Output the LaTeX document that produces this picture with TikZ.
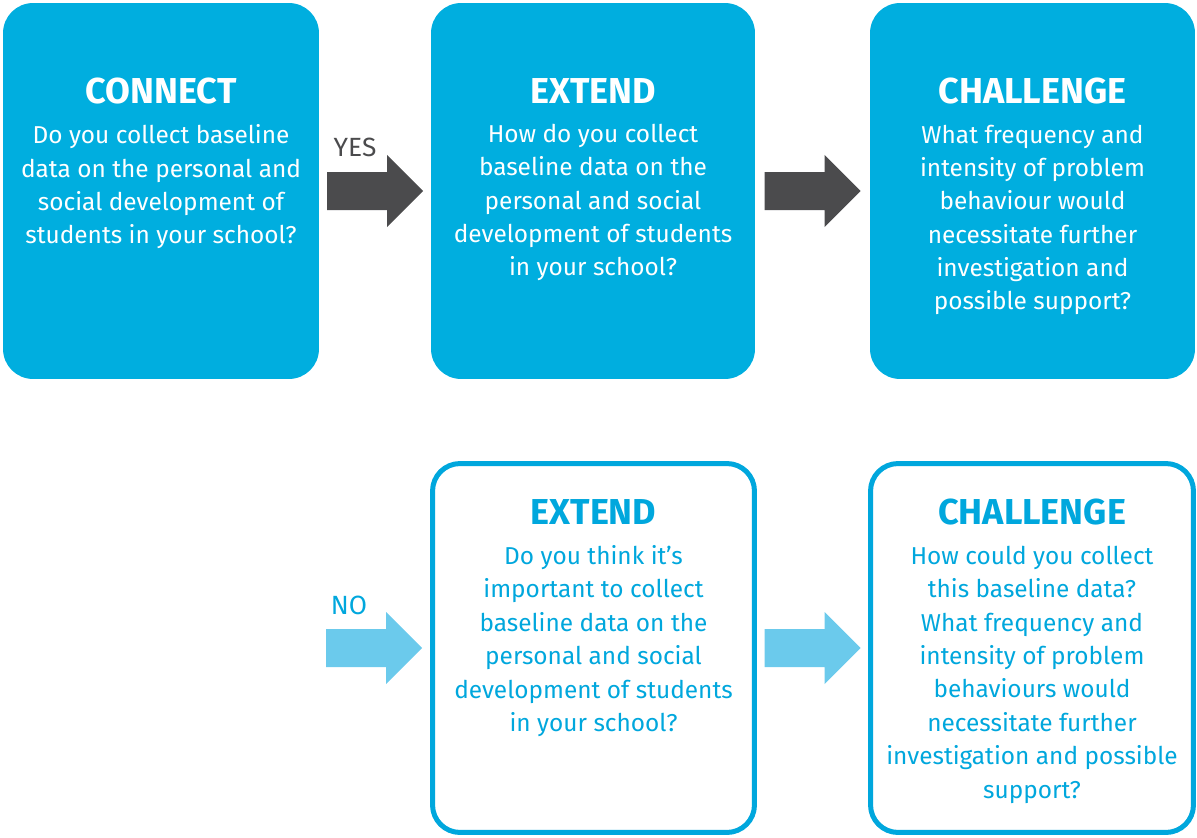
\documentclass[tikz,border=0pt]{standalone}
\usepackage{fontspec}
\setmainfont{Fira Sans}
\usetikzlibrary{calc,positioning}
\definecolor{boxcyan}{HTML}{00AEDF}
\definecolor{textcyan}{HTML}{00A7DD}
\definecolor{arrowdark}{HTML}{4B4B4D}
\definecolor{arrowlight}{HTML}{6BCAEC}

\tikzset{
  fullbox/.style={rounded corners=0.6cm, fill=boxcyan, minimum height=7.52cm},
  linebox/.style={rounded corners=0.55cm, draw=textcyan, line width=2.85pt,
                  fill=white, minimum height=7.38cm},
  boxtitle/.style={font=\fontsize{20.5}{23}\selectfont\bfseries, inner sep=0pt},
  boxbody/.style={font=\fontsize{13.9}{19}\selectfont, align=center, inner sep=0pt},
  arrowlabel/.style={font=\fontsize{15}{17}\selectfont, inner sep=0pt},
  blockarrow/.pic={
    \fill (-48,-19) -- (12,-19) -- (12,-36) -- (48,0) -- (12,36) -- (12,19)
          -- (-48,19) -- cycle;
  }
}

\begin{document}
\begin{tikzpicture}[x=0.02cm, y=-0.02cm]
  \useasboundingbox (0,0) rectangle (1197,838);

  % ══ TOP ROW (filled) ══════════════════════════════════════════
  \node[fullbox, minimum width=6.32cm] (connect)   at (161,191)    {};
  \node[fullbox, minimum width=6.48cm] (extendyes) at (593,191)    {};
  \node[fullbox, minimum width=6.50cm] (challyes)  at (1032.5,191) {};

  \node[boxtitle, text=white] (connecttitle) at ($(connect.north)+(0,88)$) {CONNECT};
  \node[boxbody, text=white, below=11.5pt of connecttitle] (connectbody)
    {Do you collect baseline\\ data on the personal and\\ social development of\\
     students in your school?};

  \node[boxtitle, text=white] (extendyestitle) at ($(extendyes.north)+(0,88)$) {EXTEND};
  \node[boxbody, text=white, below=11.5pt of extendyestitle] (extendyesbody)
    {How do you collect\\ baseline data on the\\ personal and social\\
     development of students\\ in your school?};

  \node[boxtitle, text=white] (challyestitle) at ($(challyes.north)+(0,88)$) {CHALLENGE};
  \node[boxbody, text=white, below=11.5pt of challyestitle] (challyesbody)
    {What frequency and\\ intensity of problem\\ behaviour would\\
     necessitate further\\ investigation and\\ possible support?};

  % ══ BOTTOM ROW (outlined) ═════════════════════════════════════
  \node[linebox, minimum width=6.44cm] (extendno) at (593.5,648) {};
  \node[linebox, minimum width=6.46cm] (challno)  at (1032,648)  {};

  \node[boxtitle, text=textcyan] (extendnotitle) at ($(extendno.north)+(0,51)$) {EXTEND};
  \node[boxbody, text=textcyan, below=11.5pt of extendnotitle] (extendnobody)
    {Do you think it’s\\ important to collect\\ baseline data on the\\
     personal and social\\ development of students\\ in your school?};

  \node[boxtitle, text=textcyan] (challnotitle) at ($(challno.north)+(0,51)$) {CHALLENGE};
  \node[boxbody, text=textcyan, below=11.5pt of challnotitle] (challnobody)
    {How could you collect\\ this baseline data?\\ What frequency and\\
     intensity of problem\\ behaviours would\\ necessitate further\\
     investigation and possible\\ support?};

  % ══ ARROWS ════════════════════════════════════════════════════
  \coordinate (yesmid)  at ($(connect.east)!0.5!(extendyes.west)$);
  \coordinate (topmid)  at ($(extendyes.east)!0.5!(challyes.west)$);
  \coordinate (nomid)   at ($(extendno.west)+(-56,0)$);
  \coordinate (botmid)  at ($(extendno.east)!0.5!(challno.west)$);

  \pic[fill=arrowdark]  at (yesmid) {blockarrow};
  \pic[fill=arrowdark]  at (topmid) {blockarrow};
  \pic[fill=arrowlight] at (nomid)  {blockarrow};
  \pic[fill=arrowlight] at (botmid) {blockarrow};

  \node[arrowlabel, text=arrowdark] (yeslabel) at ($(yesmid)+(-20,-44)$) {YES};
  \node[arrowlabel, text=textcyan]  (nolabel)  at ($(nomid)+(-25,-43)$)  {NO};

\end{tikzpicture}
\end{document}
